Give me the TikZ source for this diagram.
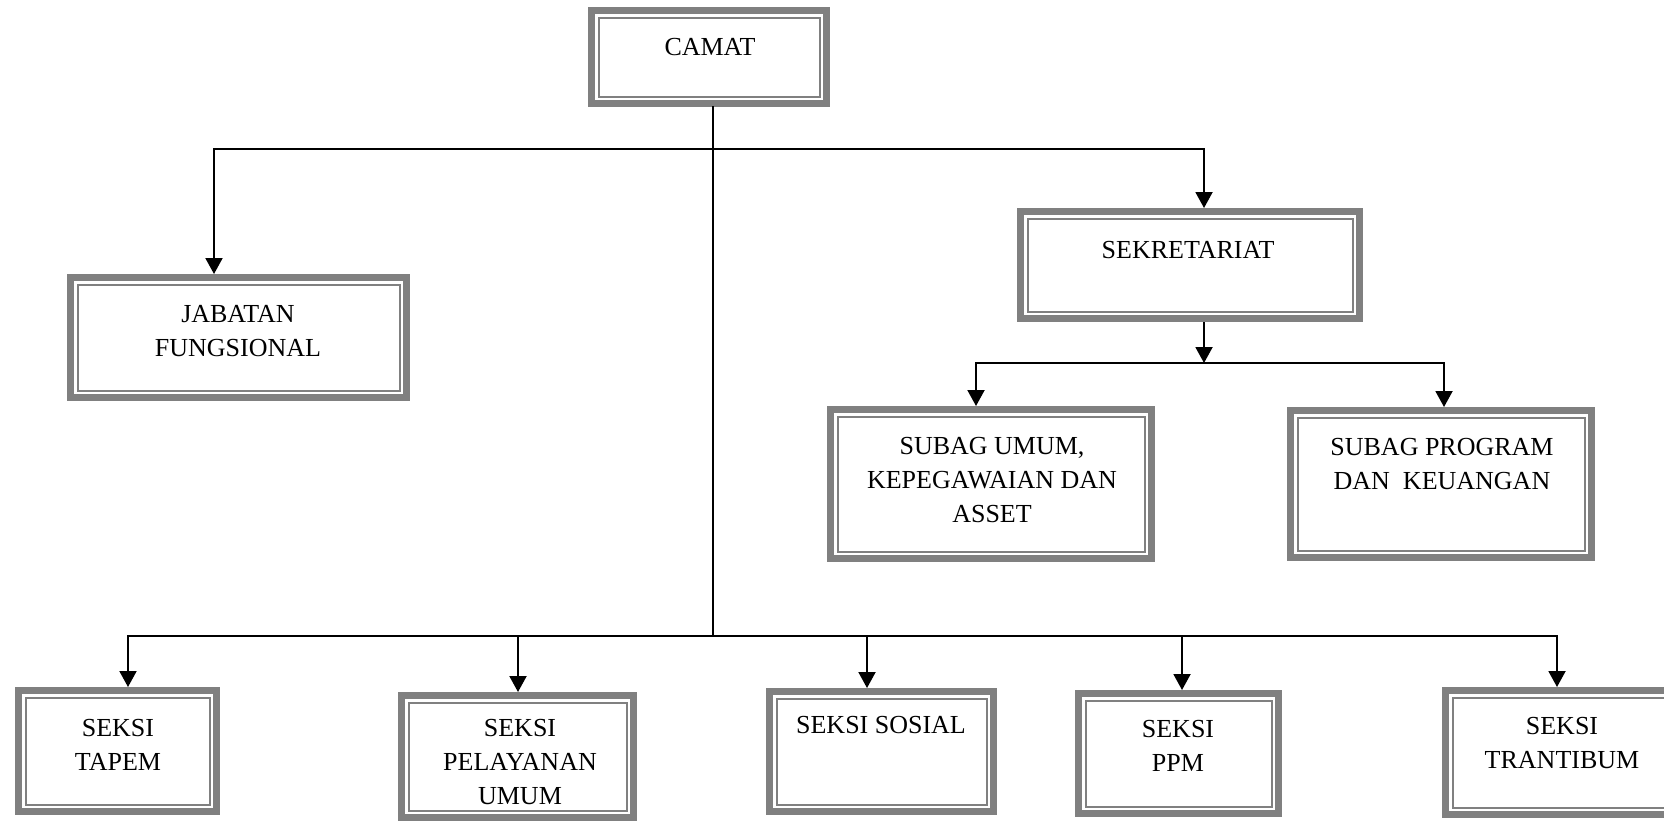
\documentclass[tikz,border=0pt]{standalone}
\usepackage{fontspec}
\setmainfont{Liberation Serif}
\usetikzlibrary{arrows.meta}
\definecolor{boxgray}{RGB}{128,128,128}
\tikzset{
  orgbox/.style={draw=boxgray, line width=7pt, fill=white, inner sep=0pt,
    path picture={\draw[boxgray, line width=2pt]
      ([shift={(7pt,-7pt)}]path picture bounding box.north west) rectangle
      ([shift={(-7pt,7pt)}]path picture bounding box.south east);}},
  lbl/.style={inner sep=0pt, align=center, font=\fontsize{26}{34}\selectfont},
  conn/.style={line width=2pt, line cap=rect},
  arr/.style={line width=2pt, -{Triangle[width=17pt,length=16pt]}}
}
\newcommand\obox[5]{%
  \node[orgbox, minimum width={(#4-#2-7)*1pt}, minimum height={(#5-#3-7)*1pt}]
    (#1) at ({(#2+#4)/2},{(#3+#5)/2}) {};}
\begin{document}
\begin{tikzpicture}[x=1pt,y=-1pt]
\useasboundingbox (0,0) rectangle (1664,820);
\clip (0,0) rectangle (1664,820);
% boxes
\obox{camat}{588}{7}{830}{107}
\obox{jab}{67}{274}{410}{401}
\obox{sek}{1017}{208}{1363}{322}
\obox{sub1}{827}{406}{1155}{562}
\obox{sub2}{1287}{407}{1595}{561}
\obox{tapem}{15}{687}{220}{815}
\obox{pel}{398}{692}{637}{821}
\obox{sos}{766}{688}{997}{815}
\obox{ppm}{1075}{690}{1282}{817}
\obox{tran}{1442}{687}{1690}{818}
% labels
\node[lbl] (camat-t) at (710,47) {CAMAT};
\node[lbl] (jab-t) at (238,331) {JABATAN\\FUNGSIONAL};
\node[lbl] (sek-t) at (1188,250) {SEKRETARIAT};
\node[lbl] (sub1-t) at (992,480) {SUBAG UMUM,\\KEPEGAWAIAN DAN\\ASSET};
\node[lbl] (sub2-t) at (1442,464) {SUBAG PROGRAM\\DAN\ \ KEUANGAN};
\node[lbl] (tapem-t) at (118,745) {SEKSI\\TAPEM};
\node[lbl] (pel-t) at (520,762) {SEKSI\\PELAYANAN\\UMUM};
\node[lbl] (sos-t) at (881,725) {SEKSI SOSIAL};
\node[lbl] (ppm-t) at (1178,746) {SEKSI\\PPM};
\node[lbl] (tran-t) at (1562,743) {SEKSI\\TRANTIBUM};
% connector points
\coordinate (hubtop) at (713,149);
\coordinate (hubbot) at (713,636);
\coordinate (jturn) at (214,149);
\coordinate (sturn) at (1204,149);
\coordinate (subhub) at (1204,363);
\coordinate (s1turn) at (976,363);
\coordinate (s2turn) at (1444,363);
\coordinate (b1) at (128,636);
\coordinate (b2) at (518,636);
\coordinate (b3) at (867,636);
\coordinate (b4) at (1182,636);
\coordinate (b5) at (1557,636);
% connectors
\draw[conn] (hubtop |- camat.south) -- (hubbot);
\draw[conn] (jturn) -- (sturn);
\draw[arr] (jturn) -- (jturn |- jab.north);
\draw[arr] (sturn) -- (sturn |- sek.north);
\draw[arr] (subhub |- sek.south) -- (subhub);
\draw[conn] (s1turn) -- (s2turn);
\draw[arr] (s1turn) -- (s1turn |- sub1.north);
\draw[arr] (s2turn) -- (s2turn |- sub2.north);
\draw[conn] (b1) -- (b5);
\draw[arr] (b1) -- (b1 |- tapem.north);
\draw[arr] (b2) -- (b2 |- pel.north);
\draw[arr] (b3) -- (b3 |- sos.north);
\draw[arr] (b4) -- (b4 |- ppm.north);
\draw[arr] (b5) -- (b5 |- tran.north);
\end{tikzpicture}
\end{document}
